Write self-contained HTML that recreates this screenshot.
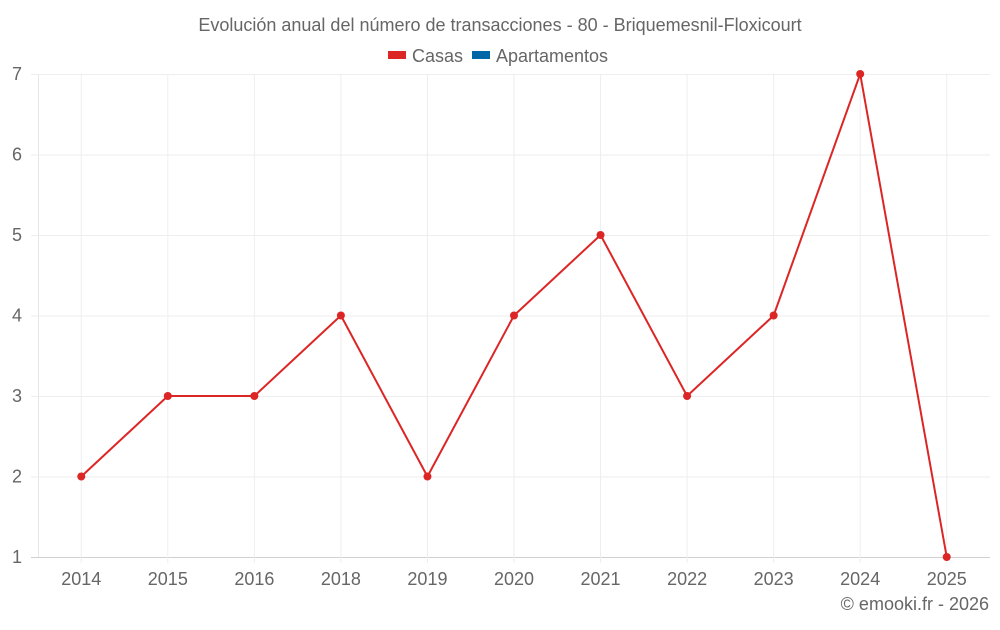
<!DOCTYPE html>
<html><head><meta charset="utf-8"><style>
body{margin:0;background:#fff;font-family:"Liberation Sans",sans-serif;}
svg text{font-family:"Liberation Sans",sans-serif;fill:#666;}
</style></head><body>
<svg id="chart" width="1000" height="625" xmlns="http://www.w3.org/2000/svg">
<text x="500" y="31" text-anchor="middle" font-size="18">Evolución anual del número de transacciones - 80 - Briquemesnil-Floxicourt</text>
<g>
<g><rect x="388" y="51" width="18" height="8" fill="#dc2626"/><text x="412" y="62" font-size="18">Casas</text></g>
<g><rect x="472" y="51" width="18" height="8" fill="#0066a6"/><text x="496" y="62" font-size="18">Apartamentos</text></g>
</g>
<g id="grid"></g>
<g id="axes"></g>
<g id="series"></g>
<text x="989" y="610" text-anchor="end" font-size="18">© emooki.fr - 2026</text>
</svg>
<script>
const categories=["2014","2015","2016","2018","2019","2020","2021","2022","2023","2024","2025"];
const casas=[2,3,3,4,2,4,5,3,4,7,1];
const yTicks=[1,2,3,4,5,6,7];
const NS="http://www.w3.org/2000/svg";
const L=38,R=990,T=74,B=557,yMin=1,yMax=7;
const band=(R-L)/categories.length;
function x(i){return L+band*(i+0.5);}
function y(v){return B-(v-yMin)/(yMax-yMin)*(B-T);}
function mk(t,a,p){const e=document.createElementNS(NS,t);for(const k in a)e.setAttribute(k,a[k]);p.appendChild(e);return e;}
const g=document.getElementById('grid'),ax=document.getElementById('axes'),s=document.getElementById('series');
let e=mk('line',{x1:L+0.5,x2:L+0.5,y1:T,y2:B,stroke:'#e6e6e6'},g);


yTicks.forEach(v=>{
 let l=mk('line',{x1:31,x2:R,y1:y(v)+0.5,y2:y(v)+0.5,stroke:v===yMin?'#d0d0d0':'#eeeeee'},g);
 
 
 let t=mk('text',{x:22,y:y(v)+6,'text-anchor':'end','font-size':'18'},ax);
 t.textContent=v;
 
 
});
categories.forEach((c,i)=>{
 let l=mk('line',{x1:x(i),x2:x(i),y1:T,y2:B+6,stroke:'#eeeeee'},g);
 
 
 let t=mk('text',{x:x(i),y:585,'text-anchor':'middle','font-size':'18'},ax);
 t.textContent=c;
 
 
});
let p=mk('polyline',{points:casas.map((v,i)=>x(i)+','+y(v)).join(' '),fill:'none',stroke:'#dc2626','stroke-width':2},s);


casas.forEach((v,i)=>{
 let c=mk('circle',{cx:x(i),cy:y(v),r:4,fill:'#dc2626'},s);
 
 
});
</script>
</body></html>
